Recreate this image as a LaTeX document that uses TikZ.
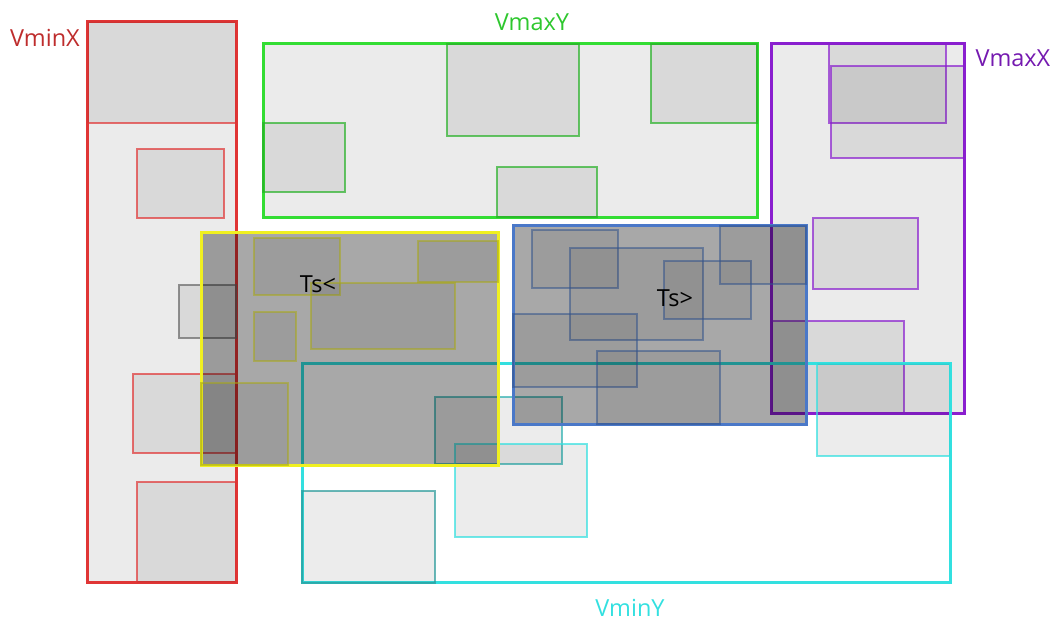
\documentclass[tikz,border=0pt]{standalone}
\usepackage{fontspec}
\setmainfont{Open Sans}
\definecolor{cred}{HTML}{E03535}
\definecolor{cgreen}{HTML}{33DD33}
\definecolor{cpurple}{HTML}{8A1FCF}
\definecolor{ccyan}{HTML}{33E0E0}
\definecolor{cyellow}{HTML}{F0F020}
\definecolor{cblue}{HTML}{4A78C8}
\definecolor{cteal}{HTML}{2A9A9A}
\tikzset{
  outerbox/.style={line width=3pt, fill=black, fill opacity=0.08},
  innerbox/.style={line width=1.1pt, fill=black, fill opacity=0.075, draw opacity=0.7},
  darkbox/.style={line width=3pt, fill=black, fill opacity=0.34},
  darkinner/.style={line width=1.1pt, fill=black, fill opacity=0.07, draw opacity=0.55},
  lbl/.style={font=\fontsize{23.5}{28}\selectfont, inner sep=0pt}
}
\begin{document}
\begin{tikzpicture}[x=1pt,y=-1pt]
\useasboundingbox (0,0) rectangle (1054,621);
% VminX (red)
\draw[outerbox, draw=cred] (87,21) rectangle (236,582);
\draw[innerbox, draw=cred] (87,21) rectangle (236,123);
\draw[innerbox, draw=cred] (137,149) rectangle (224,218);
\draw[innerbox, draw=cred] (133,374) rectangle (236,453);
\draw[innerbox, draw=cred] (137,482) rectangle (236,583);
\draw[innerbox, draw=gray!80!black] (179,285) rectangle (236,338);
% VmaxY (green)
\draw[outerbox, draw=cgreen] (263,43) rectangle (757,217);
\draw[innerbox, draw=cgreen!80!black] (263,123) rectangle (345,192);
\draw[innerbox, draw=cgreen!80!black] (447,44) rectangle (579,136);
\draw[innerbox, draw=cgreen!80!black] (651,44) rectangle (757,123);
\draw[innerbox, draw=cgreen!80!black] (497,167) rectangle (597,217);
% VmaxX (purple)
\draw[outerbox, draw=cpurple] (771,43) rectangle (964,413);
\draw[innerbox, draw=cpurple] (829,44) rectangle (946,123);
\draw[innerbox, draw=cpurple] (831,66) rectangle (964,158);
\draw[innerbox, draw=cpurple] (813,218) rectangle (918,289);
\draw[innerbox, draw=cpurple] (771,321) rectangle (904,413);
% VminY (cyan)
\draw[line width=3pt, draw=ccyan] (302,363) rectangle (950,582);
\draw[innerbox, draw=cteal] (302,491) rectangle (435,583);
\draw[innerbox, draw=cteal!70!ccyan] (435,397) rectangle (562,464);
\draw[innerbox, draw=ccyan] (455,444) rectangle (587,537);
\draw[innerbox, draw=ccyan] (817,363) rectangle (950,456);
% Ts< (yellow)
\draw[darkbox, draw=cyellow] (201,232) rectangle (498,465);
\draw[darkinner, draw=cyellow!70!black] (254,238) rectangle (340,295);
\draw[darkinner, draw=cyellow!70!black] (418,241) rectangle (498,282);
\draw[darkinner, draw=cyellow!70!black] (311,283) rectangle (455,349);
\draw[darkinner, draw=cyellow!70!black] (254,312) rectangle (296,361);
\draw[darkinner, draw=cyellow!70!black] (201,383) rectangle (288,465);
% Ts> (blue)
\draw[darkbox, draw=cblue] (513,225) rectangle (806,424);
\draw[darkinner, draw=cblue!70!black] (532,230) rectangle (618,288);
\draw[darkinner, draw=cblue!70!black] (570,248) rectangle (703,340);
\draw[darkinner, draw=cblue!70!black] (664,261) rectangle (751,319);
\draw[darkinner, draw=cblue!70!black] (720,226) rectangle (806,284);
\draw[darkinner, draw=cblue!70!black] (513,314) rectangle (637,387);
\draw[darkinner, draw=cblue!70!black] (597,351) rectangle (720,424);
% labels
\node[lbl, text=cred!85!black] (lminx) at (45,38) {VminX};
\node[lbl, text=cgreen!90!black] (lmaxy) at (532,22) {VmaxY};
\node[lbl, text=cpurple!85!black] (lmaxx) at (1013,58) {VmaxX};
\node[lbl, text=ccyan] (lminy) at (630,608) {VminY};
\node[lbl, text=black] (tsl) at (318,284) {Ts<};
\node[lbl, text=black] (tsg) at (675,298) {Ts>};
\end{tikzpicture}
\end{document}
